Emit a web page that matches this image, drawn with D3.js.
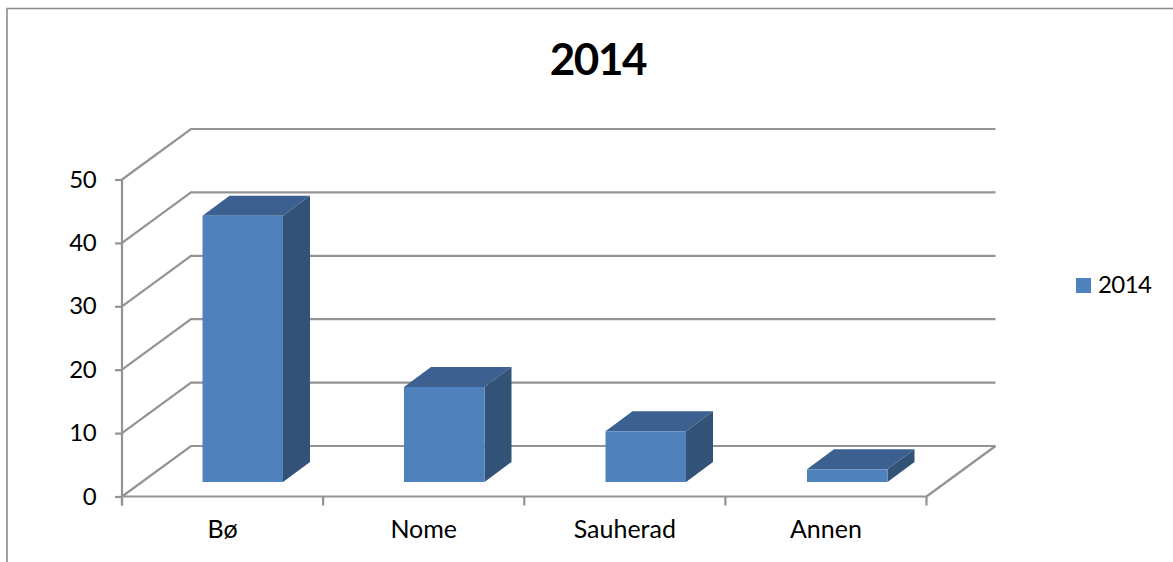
<!DOCTYPE html>
<html>
<head>
<meta charset="utf-8">
<style>
  body { margin: 0; background: #fff; }
  text { font-family: Lato, "Open Sans", sans-serif; fill: #000; }
</style>
<script src="https://d3js.org/d3.v7.min.js"></script>
</head>
<body>
<svg id="chart" width="1173" height="562"></svg>
<script>
var categories = ["Bø", "Nome", "Sauherad", "Annen"];
var values = [42, 15, 8, 2];
var yTicks = [0, 10, 20, 30, 40, 50];
var seriesName = "2014";

var svg = d3.select("#chart");

var x = d3.scaleBand().domain(categories).range([122, 926.5]);
var xBars = d3.scaleBand().domain(categories).range([122, 928]);
var y = d3.scaleLinear().domain([0, 50]).range([496.5, 179.5]);

// depth of the fake 3d box and of the bars
var depthX = 69, depthY = -50.5;
var barDepthX = 27, barDepthY = -20;
var barShiftX = 20, barShiftY = -14.5;
var barWidth = 80.5;
var gridColor = "#939393";

// chart frame, only top and left show
svg.append("path")
  .attr("d", "M7,562V8.5H1173")
  .attr("fill", "none").attr("stroke", "#8c8c8c").attr("stroke-width", 1.6);

// walls and gridlines
var grid = svg.append("g");
yTicks.forEach(function(t) {
  grid.append("path")
    .attr("d", d3.line()([[x.range()[0], y(t)], [x.range()[0] + depthX, y(t) + depthY], [x.range()[1] + depthX, y(t) + depthY]]))
    .attr("fill", "none").attr("stroke", gridColor).attr("stroke-width", 2.2);
});
grid.append("path")
  .attr("d", d3.line()([[x.range()[1], y(0)], [x.range()[1] + depthX, y(0) + depthY]]))
  .attr("fill", "none").attr("stroke", gridColor).attr("stroke-width", 2.2);

// axes
var yAxis = d3.axisLeft(y).tickValues(yTicks).tickSize(7).tickPadding(19);
var gy = svg.append("g").attr("transform", "translate(122,0)").call(yAxis);

var xAxis = d3.axisBottom(x).tickSize(0).tickPadding(24);
var gx = svg.append("g").attr("transform", "translate(0,496.5)").call(xAxis);

[gx, gy].forEach(function(g) {
  g.selectAll("path, line").attr("stroke", gridColor).attr("stroke-width", 2.2);
  g.selectAll("text").attr("fill", "#000");
});
gy.selectAll("text").style("font-size", "24px").style("letter-spacing", "-0.6px");
gx.selectAll("text").style("font-size", "25px");
gx.select(".domain").attr("d", "M122,0H926.5");
gy.select(".domain").attr("d", "M0," + y(50) + "V" + (y(0) + 9));
gx.selectAll(".boundary")
  .data(d3.range(categories.length + 1))
  .enter().append("line").attr("class", "boundary")
  .attr("x1", function(i) { return 122 + i * x.bandwidth(); })
  .attr("x2", function(i) { return 122 + i * x.bandwidth(); })
  .attr("y1", 0).attr("y2", 9)
  .attr("stroke", gridColor).attr("stroke-width", 2.2);

// bars
var bars = svg.append("g").selectAll("g")
  .data(categories.map(function(c, i) { return { name: c, value: values[i] }; }))
  .enter().append("g");

function bx(d) { return xBars(d.name) + xBars.bandwidth() / 2 - barWidth / 2 + barShiftX; }
function bTop(d) { return y(d.value) + barShiftY; }
var bBase = y(0) + barShiftY;

bars.append("path").attr("fill", "#3c6090")
  .attr("d", function(d) {
    return d3.line()([[bx(d), bTop(d)], [bx(d) + barDepthX, bTop(d) + barDepthY],
      [bx(d) + barWidth + barDepthX, bTop(d) + barDepthY], [bx(d) + barWidth, bTop(d)]]) + "Z";
  });
bars.append("path").attr("fill", "#325278")
  .attr("d", function(d) {
    return d3.line()([[bx(d) + barWidth, bTop(d)], [bx(d) + barWidth + barDepthX, bTop(d) + barDepthY],
      [bx(d) + barWidth + barDepthX, bBase + barDepthY], [bx(d) + barWidth, bBase]]) + "Z";
  });
bars.append("rect").attr("fill", "#4f81bd")
  .attr("x", bx).attr("y", bTop)
  .attr("width", barWidth)
  .attr("height", function(d) { return bBase - bTop(d); });

// title
svg.append("text").attr("x", 598).attr("y", 75)
  .attr("text-anchor", "middle")
  .style("font-size", "44px").style("font-weight", "bold").style("letter-spacing", "-1.4px")
  .text(seriesName);

// legend
svg.append("rect").attr("x", 1076).attr("y", 278).attr("width", 15).attr("height", 15).attr("fill", "#4f81bd");
svg.append("text").attr("x", 1098).attr("y", 293).style("font-size", "24px").style("letter-spacing", "-0.6px").text(seriesName);
</script>
</body>
</html>
